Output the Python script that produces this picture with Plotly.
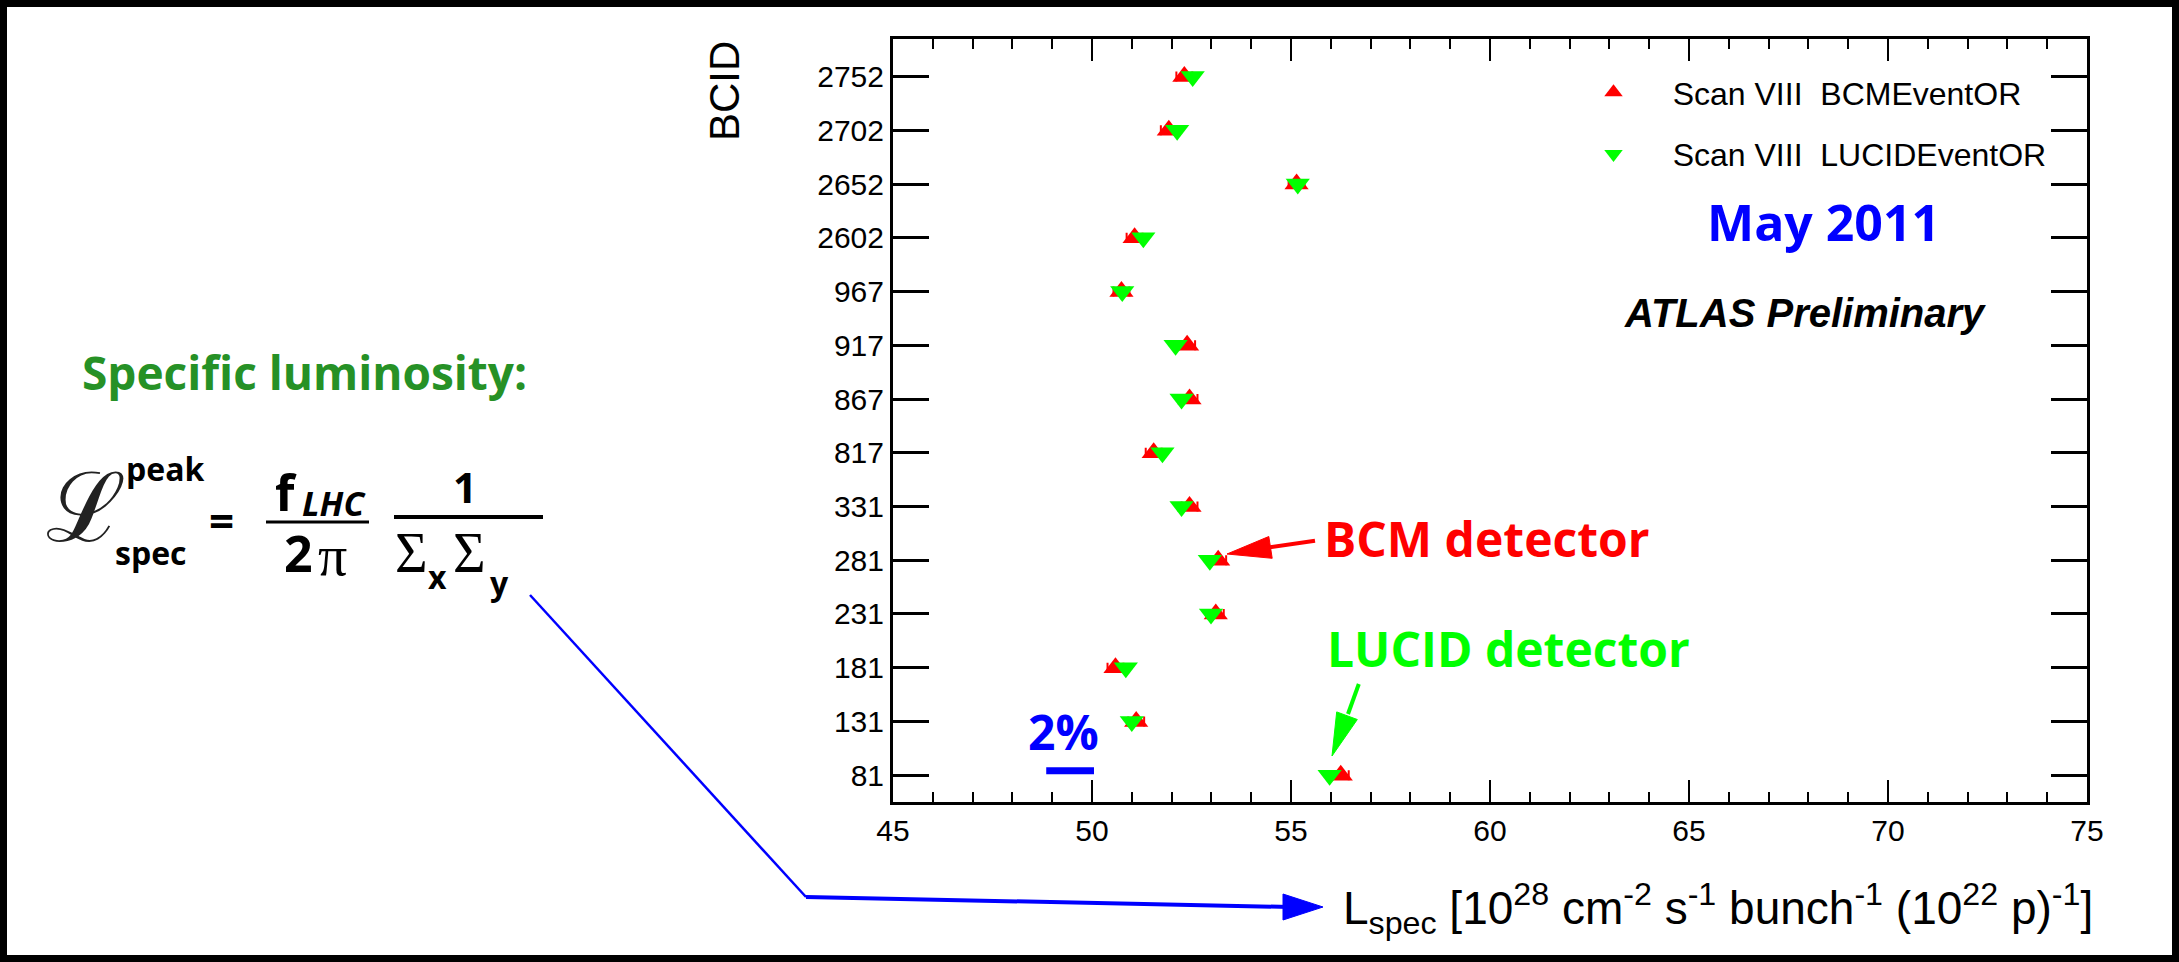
import plotly.graph_objects as go

# ---------------- data ----------------
bcid_labels = ["81", "131", "181", "231", "281", "331", "817", "867", "917", "967",
               "2602", "2652", "2702", "2752"]
bcm_values = [56.25, 51.11, 50.59, 53.11, 53.17, 52.45, 51.55, 52.45, 52.39, 50.74,
              51.07, 55.14, 51.93, 52.32]
bcm_errors = [0.2, 0.2, 0.2, 0.2, 0.2, 0.2, 0.2, 0.2, 0.2, 0.2, 0.2, 0.2, 0.2, 0.2]
lucid_values = [55.97, 51.00, 50.85, 52.99, 52.96, 52.25, 51.77, 52.25, 52.10, 50.76,
                51.29, 55.17, 52.14, 52.53]
x_ticks = [45, 50, 55, 60, 65, 70, 75]
bcid_index = list(range(len(bcid_labels)))

# ---------------- geometry helpers (pixel -> paper) ----------------
W, H = 2179, 962
PL, PR, PT, PB = 893, 2087, 39, 802


def X(px):
    return (px - PL) / (PR - PL)


def Y(py):
    return (PB - py) / (PB - PT)


ARIAL = "Liberation Sans, Arial, Helvetica, sans-serif"
COMIC = "Open Sans, Lato, sans-serif"
SERIF = "Liberation Serif, DejaVu Serif, serif"
NB = "\u00a0\u00a0\u00a0"

fig = go.Figure()

fig.add_trace(go.Scatter(
    x=bcm_values, y=bcid_index, mode="markers",
    name=NB + "Scan VIII  BCMEventOR",
    marker=dict(symbol="triangle-up", size=21, color="rgb(255,0,0)"),
    error_x=dict(type="data", array=bcm_errors, color="rgb(255,0,0)", thickness=2, width=5),
    legendgroup="a",
))
fig.add_trace(go.Scatter(
    x=lucid_values, y=bcid_index, mode="markers",
    name=NB + "Scan VIII  LUCIDEventOR",
    marker=dict(symbol="triangle-down", size=21, color="rgb(0,255,0)"),
    legendgroup="b",
))

shapes = []
# outer black frame
shapes.append(dict(type="rect", xref="paper", yref="paper",
                   x0=X(3.5), x1=X(W - 3.5), y0=Y(H - 3.5), y1=Y(3.5),
                   line=dict(color="black", width=7), fillcolor="rgba(0,0,0,0)"))
# blue connector
shapes.append(dict(type="line", xref="paper", yref="paper",
                   x0=X(530), y0=Y(595), x1=X(806), y1=Y(897),
                   line=dict(color="rgb(0,0,255)", width=2.5)))
shapes.append(dict(type="line", xref="paper", yref="paper",
                   x0=X(806), y0=Y(897), x1=X(1290), y1=Y(907),
                   line=dict(color="rgb(0,0,255)", width=4)))
shapes.append(dict(type="path", xref="paper", yref="paper",
                   path=f"M {X(1283)},{Y(894)} L {X(1323)},{Y(907)} L {X(1283)},{Y(920)} Z",
                   fillcolor="rgb(0,0,255)", line=dict(color="rgb(0,0,255)", width=1)))
# red arrow (BCM)
shapes.append(dict(type="line", xref="paper", yref="paper",
                   x0=X(1315), y0=Y(540.7), x1=X(1262), y1=Y(548.5),
                   line=dict(color="rgb(255,0,0)", width=4)))
shapes.append(dict(type="path", xref="paper", yref="paper",
                   path=f"M {X(1227)},{Y(554)} L {X(1272.2)},{Y(558.3)} L {X(1268.8)},{Y(536.5)} Z",
                   fillcolor="rgb(255,0,0)", line=dict(color="rgb(255,0,0)", width=1)))
# green arrow (LUCID)
shapes.append(dict(type="line", xref="paper", yref="paper",
                   x0=X(1358.8), y0=Y(684), x1=X(1348), y1=Y(714),
                   line=dict(color="rgb(0,255,0)", width=4)))
shapes.append(dict(type="path", xref="paper", yref="paper",
                   path=f"M {X(1332)},{Y(756)} L {X(1357.3)},{Y(719.5)} L {X(1336.7)},{Y(711.9)} Z",
                   fillcolor="rgb(0,255,0)", line=dict(color="rgb(0,255,0)", width=1)))
# 2% bar
shapes.append(dict(type="line", xref="x", yref="paper",
                   x0=48.85, x1=50.05, y0=Y(770.7), y1=Y(770.7),
                   line=dict(color="rgb(0,0,255)", width=7)))
# fraction bars
shapes.append(dict(type="line", xref="paper", yref="paper",
                   x0=X(266), x1=X(369), y0=Y(522), y1=Y(522),
                   line=dict(color="black", width=3)))
shapes.append(dict(type="line", xref="paper", yref="paper",
                   x0=X(394), x1=X(543), y0=Y(517), y1=Y(517),
                   line=dict(color="black", width=4)))

ann = []


def txt(text, px, py, size, color="black", family=ARIAL, xanchor="center", angle=0):
    ann.append(dict(text=text, xref="paper", yref="paper", x=X(px), y=Y(py),
                    xanchor=xanchor, yanchor="middle", showarrow=False, textangle=angle,
                    font=dict(size=size, color=color, family=family)))


txt("<b>May 2011</b>", 1823, 222, 50, "rgb(0,0,255)", COMIC)
txt("<b><i>ATLAS Preliminary</i></b>", 1805, 313, 40, "black", ARIAL)
txt("<b>2%</b>", 1063, 731, 48, "rgb(0,0,255)", COMIC)
txt("<b>BCM detector</b>", 1487, 538, 48, "rgb(255,0,0)", COMIC)
txt("<b>LUCID detector</b>", 1508, 648, 48, "rgb(0,255,0)", COMIC)
txt("<b>Specific luminosity:</b>", 304, 372, 46, "rgb(38,145,38)", COMIC)
txt("BCID", 724, 91, 42, "black", ARIAL, angle=-90)
txt("L<sub>spec</sub> [10<sup>28</sup> cm<sup>-2</sup> s<sup>-1</sup> bunch<sup>-1</sup> "
    "(10<sup>22</sup> p)<sup>-1</sup>]", 1341, 908, 46, "black", ARIAL, xanchor="left")
# formula pieces
txt("ℒ", 86, 508, 96, "#222222", "DejaVu Serif")
txt("<b>peak</b>", 165, 468, 32, "black", COMIC)
txt("<b>spec</b>", 151, 552, 32, "black", COMIC)
txt("<b>=</b>", 221, 520, 44, "black", COMIC)
txt("<b>f</b>", 286, 492, 50, "black", COMIC)
txt("<b><i>LHC</i></b>", 334, 503, 34, "black", COMIC)
txt("<b>2</b>", 298, 553, 50, "black", COMIC)
txt("π", 332, 555, 58, "black", SERIF)
txt("<b>1</b>", 465, 486, 42, "black", COMIC)
txt("Σ", 411, 553, 56, "black", SERIF)
txt("<b>x</b>", 437, 576, 32, "black", COMIC)
txt("Σ", 469, 553, 56, "black", SERIF)
txt("<b>y</b>", 499, 582, 32, "black", COMIC)

fig.update_layout(
    width=W, height=H,
    margin=dict(l=PL, r=W - PR, t=PT, b=H - PB, pad=0),
    paper_bgcolor="white", plot_bgcolor="white",
    showlegend=True,
    legend=dict(x=X(1581), y=Y(65), xanchor="left", yanchor="top",
                font=dict(size=32, family=ARIAL, color="black"),
                bgcolor="rgba(0,0,0,0)", traceorder="grouped", tracegroupgap=17,
                itemwidth=55),
    shapes=shapes,
    annotations=ann,
)
fig.update_xaxes(
    range=[45, 75], tickvals=x_ticks, ticks="inside", ticklen=22, tickwidth=2,
    tickcolor="black", showline=True, linecolor="black", linewidth=3, mirror="ticks",
    showgrid=False, zeroline=False,
    tickfont=dict(size=30, family=ARIAL, color="black"),
    minor=dict(dtick=1, tick0=45, ticks="inside", ticklen=10, tickwidth=2, tickcolor="black",
               showgrid=False),
)
fig.update_yaxes(
    range=[-0.5, 13.7], tickvals=bcid_index, ticktext=bcid_labels, ticks="inside",
    ticklen=36, tickwidth=3, tickcolor="black", showline=True, linecolor="black",
    linewidth=3, mirror="ticks", showgrid=False, zeroline=False,
    tickfont=dict(size=30, family=ARIAL, color="black"),
)

fig.write_html("out.html", config={"displayModeBar": False},
               post_script="document.body.style.margin='0';document.body.style.overflow='hidden';")
